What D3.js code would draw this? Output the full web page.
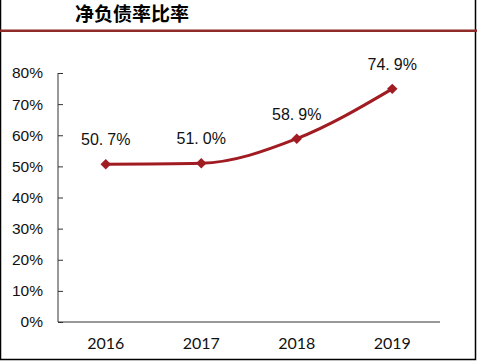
<!DOCTYPE html>
<html><head><meta charset="utf-8">
<script src="https://cdn.jsdelivr.net/npm/d3@7"></script>
<style>body{margin:0;background:#fff}svg{display:block}</style>
</head><body>
<script>
const title = "净负债率比率";
const years = ["2016","2017","2018","2019"];
const ratio = [50.7, 51.0, 58.9, 74.9];
const yTicks = [0,10,20,30,40,50,60,70,80];

const W=477,H=361;
const svg=d3.select("body").append("svg").attr("width",W).attr("height",H);
svg.append("rect").attr("width",W).attr("height",H).attr("fill","#fff");
// frame
svg.append("path").attr("d",`M0.5,0 V${H-1.5} H${W-1.5} V0`).attr("fill","none").attr("stroke","#000").attr("stroke-width",1.5);
// red header rule
svg.append("rect").attr("x",0).attr("y",29.5).attr("width",W).attr("height",2.5).attr("fill","#8E2A28");
svg.append("text").attr("x",75).attr("y",21).attr("font-family","Noto Sans CJK SC").attr("font-weight","bold")
  .attr("font-size",19).attr("fill","#000").text(title);

const x=d3.scaleBand().domain(years).range([58,440]);
const y=d3.scaleLinear().domain([0,80]).range([322,73]);

const ya=svg.append("g").attr("transform","translate(58,0)")
  .call(d3.axisLeft(y).tickValues(yTicks).tickSize(-5).tickPadding(15).tickFormat(d=>d+"%"));
ya.selectAll("path,line").attr("stroke","#333").attr("stroke-width",1);
ya.select(".domain").attr("d","M0,73V322");
ya.selectAll("text").attr("font-family","Liberation Sans, Arial").attr("font-size",15.5).attr("fill","#111");

const xa=svg.append("g").attr("transform","translate(0,322)")
  .call(d3.axisBottom(x).tickSize(0).tickPadding(16));
xa.select(".domain").attr("stroke","#333").attr("d","M58,0H440");
xa.selectAll("text").attr("font-family","Lato, Liberation Sans").attr("font-size",16).attr("fill","#111");

const cx=d=>x(d)+x.bandwidth()/2;
const line=d3.line().x((d,i)=>cx(years[i])).y(d=>y(d)).curve(d3.curveMonotoneX);
svg.append("path").datum(ratio).attr("d",line).attr("fill","none").attr("stroke","#A01C22").attr("stroke-width",3);
svg.selectAll(".m").data(ratio).enter().append("path")
  .attr("d",d3.symbol(d3.symbolSquare,55)())
  .attr("transform",(d,i)=>`translate(${cx(years[i])},${y(d)}) rotate(45)`).attr("fill","#A01C22");
const lab=svg.selectAll(".lab").data(ratio).enter().append("text")
  .attr("x",(d,i)=>cx(years[i])).attr("y",d=>y(d)-19).attr("text-anchor","middle")
  .attr("font-family","Liberation Sans, Arial").attr("font-size",16).attr("fill","#111");
lab.each(function(d){
  const s=d.toFixed(1).split(".");
  const t=d3.select(this);
  t.append("tspan").text(s[0]+".");
  t.append("tspan").attr("dx",4).text(s[1]+"%");
});
</script>
</body></html>
